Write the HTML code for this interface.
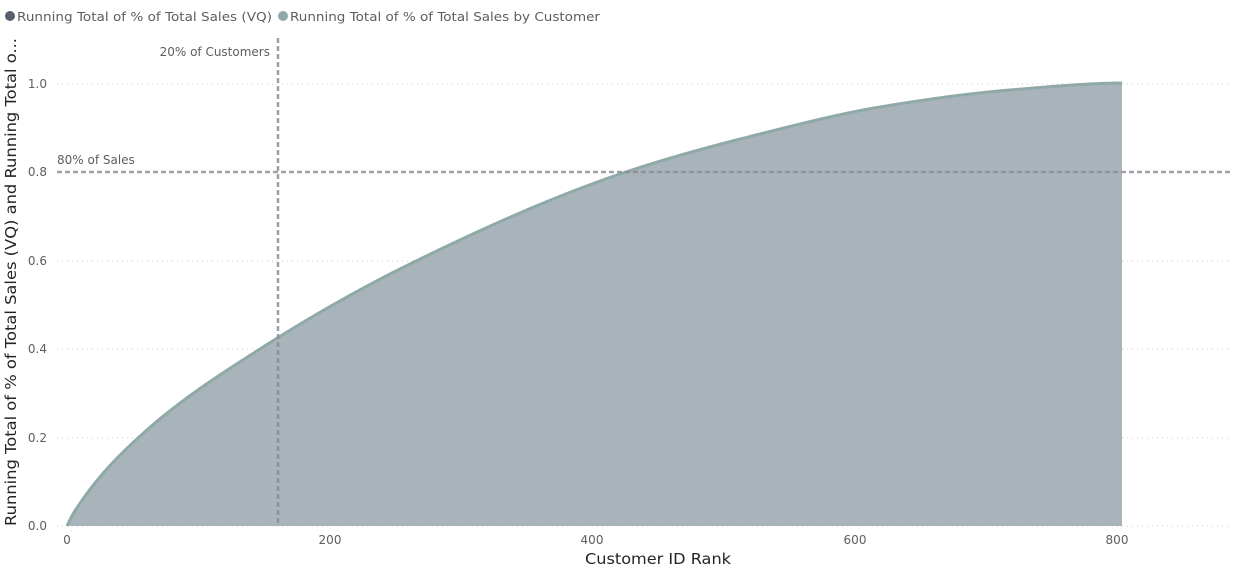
<!DOCTYPE html>
<html><head><meta charset="utf-8"><style>
body{margin:0;background:#fff;width:1233px;height:570px;overflow:hidden;font-family:"DejaVu Sans","Liberation Sans",sans-serif}
</style></head><body>
<svg id="s" width="1233" height="570" xmlns="http://www.w3.org/2000/svg" font-family="DejaVu Sans, Liberation Sans, sans-serif">
<circle cx="10" cy="16" r="5" fill="#5a5f6e"/>
<text x="17" y="21" font-size="12" fill="#605e5c" textLength="255" lengthAdjust="spacingAndGlyphs">Running Total of % of Total Sales (VQ)</text>
<circle cx="283" cy="16" r="5" fill="#8fa9a8"/>
<text x="290" y="21" font-size="12" fill="#605e5c" textLength="310" lengthAdjust="spacingAndGlyphs">Running Total of % of Total Sales by Customer</text>
<g stroke="#c8c8c8" stroke-dasharray="1,4" stroke-width="1">
<line x1="57" x2="1230" y1="84" y2="84"/>
<line x1="57" x2="1230" y1="261" y2="261"/>
<line x1="57" x2="1230" y1="349" y2="349"/>
<line x1="57" x2="1230" y1="438" y2="438"/>
<line x1="57" x2="1230" y1="526" y2="526"/>
</g>
<g font-size="12" fill="#605e5c" text-anchor="end">
<text x="47" y="88">1.0</text><text x="47" y="176">0.8</text><text x="47" y="265">0.6</text>
<text x="47" y="353">0.4</text><text x="47" y="442">0.2</text><text x="47" y="530">0.0</text>
</g>
<g font-size="12" fill="#605e5c" text-anchor="middle">
<text x="67" y="544">0</text><text x="330" y="544">200</text><text x="592" y="544">400</text>
<text x="855" y="544">600</text><text x="1117" y="544">800</text>
</g>
<text x="585" y="564" font-size="15" fill="#252423" textLength="146" lengthAdjust="spacingAndGlyphs">Customer ID Rank</text>
<text transform="translate(16,526) rotate(-90)" font-size="15" fill="#252423" textLength="488" lengthAdjust="spacingAndGlyphs">Running Total of % of Total Sales (VQ) and Running Total o...</text>
<path id="area" fill="#a8b4b9"/>
<path id="line" fill="none" stroke="#8fa9a8" stroke-width="3"/>
<line x1="57" x2="1230" y1="172" y2="172" stroke="#8a8a93" stroke-width="2.5" stroke-dasharray="5,3" opacity="0.8"/>
<line x1="278" x2="278" y1="38" y2="526" stroke="#8a8a93" stroke-width="2.5" stroke-dasharray="5,3" opacity="0.8"/>
<text x="57" y="164" font-size="12" fill="#605e5c">80% of Sales</text>
<text x="270" y="56" font-size="12" fill="#605e5c" text-anchor="end">20% of Customers</text>
</svg>
<script>
var X=[67,73,138,260,414,626,760,880,1010,1122],Y=[526,514,438,349,262,172,134,107,90,83];
var n=X.length,dl=[],m=[];
for(var i=0;i<n-1;i++)dl.push((Y[i+1]-Y[i])/(X[i+1]-X[i]));
m[0]=dl[0];m[n-1]=-0.01;
for(var i=1;i<n-1;i++){var h0=X[i]-X[i-1],h1=X[i+1]-X[i],w1=2*h1+h0,w2=h1+2*h0;m[i]=(w1+w2)/(w1/dl[i-1]+w2/dl[i]);}
function f(x){var i=0;while(i<n-2&&x>X[i+1])i++;var h=X[i+1]-X[i],t=(x-X[i])/h,t2=t*t,t3=t2*t;
return (2*t3-3*t2+1)*Y[i]+(t3-2*t2+t)*h*m[i]+(-2*t3+3*t2)*Y[i+1]+(t3-t2)*h*m[i+1];}
var d="M67,526";for(var x=68;x<=1122;x+=1)d+=" L"+x+","+f(x).toFixed(2);
document.getElementById("line").setAttribute("d",d);
document.getElementById("area").setAttribute("d",d+" L1122,526 Z");
</script>
</body></html>
